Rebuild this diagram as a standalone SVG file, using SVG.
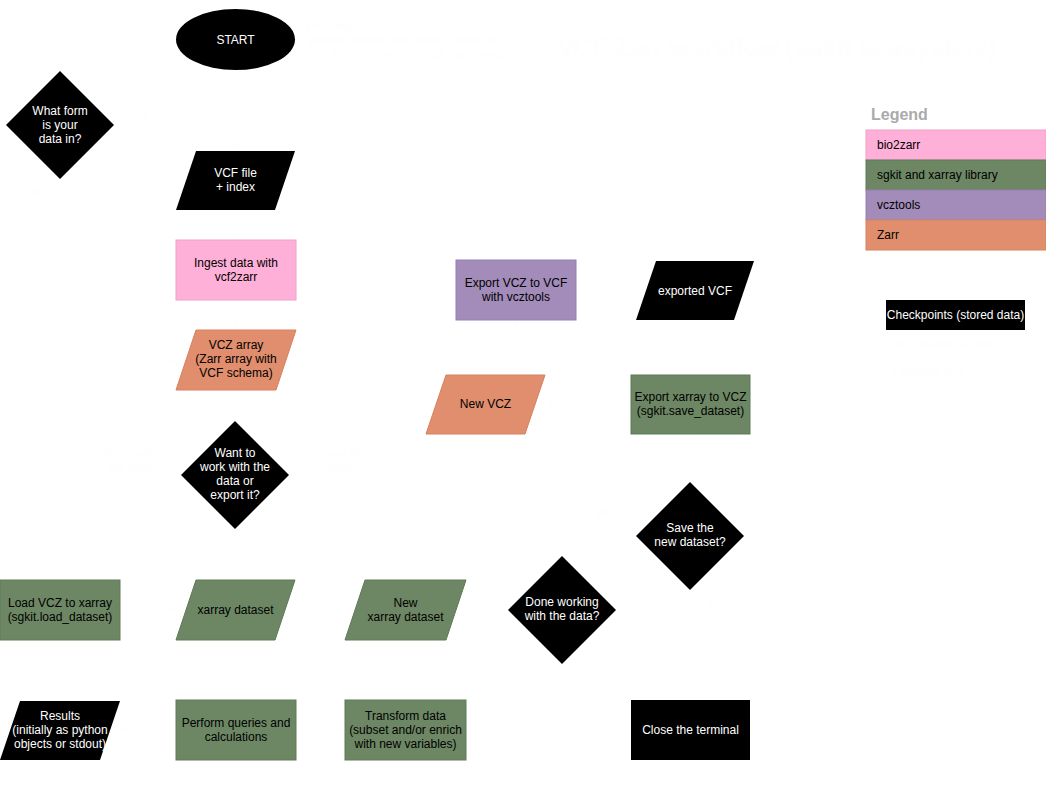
<svg xmlns="http://www.w3.org/2000/svg" width="1046" height="799" viewBox="0 0 1046 799">
<defs>
<style>
text{font-family:"Liberation Sans",Arial,sans-serif;font-size:12px;text-anchor:middle;fill:#000}
.w{fill:#fff}
.faint{fill:#fefefe}
.blk{fill:#000}
.pink{fill:#ffb0d9;stroke:#f0a0c8;stroke-width:1}
.green{fill:#6d8764;stroke:#5e7a56;stroke-width:1}
.purple{fill:#a38cba;stroke:#9680ae;stroke-width:1}
.orange{fill:#e08e6d;stroke:#d8805e;stroke-width:1}
.conn{fill:none;stroke:#fefefe;stroke-width:1}
.lt{text-anchor:start}
</style>
<marker id="arr" markerWidth="8" markerHeight="8" refX="7" refY="4" orient="auto" markerUnits="userSpaceOnUse">
<path d="M0,0 L8,4 L0,8 z" fill="#fefefe"/>
</marker>
</defs>
<rect width="1046" height="799" fill="#fff"/>

<g id="title">
<text class="faint" x="777" y="56" style="font-size:25px;font-weight:bold">VCF Zarr workflow (sgkit ecosystem)</text>
<text class="faint lt" x="307" y="30">(Assumption:</text>
<text class="faint lt" x="307" y="44">genetic variant data exists, either as a</text>
<text class="faint lt" x="307" y="58">VCF/BCF file or as a VCZ Zarr array)</text>
</g>

<g id="connectors">
<path class="conn" d="M176,40 H60 V71" marker-end="url(#arr)"/>
<path class="conn" d="M114,125 H235 V151" marker-end="url(#arr)"/>
<path class="conn" d="M60,179 V360 H176" marker-end="url(#arr)"/>
<path class="conn" d="M235,210 V240" marker-end="url(#arr)"/>
<path class="conn" d="M236,300 V330" marker-end="url(#arr)"/>
<path class="conn" d="M236,390 V421" marker-end="url(#arr)"/>
<path class="conn" d="M181,475 H60 V580" marker-end="url(#arr)"/>
<path class="conn" d="M289,475 H516 V320" marker-end="url(#arr)"/>
<path class="conn" d="M576,290 H636" marker-end="url(#arr)"/>
<path class="conn" d="M120,610 H176" marker-end="url(#arr)"/>
<path class="conn" d="M235,640 V700" marker-end="url(#arr)"/>
<path class="conn" d="M176,730 H120" marker-end="url(#arr)"/>
<path class="conn" d="M296,730 H345" marker-end="url(#arr)"/>
<path class="conn" d="M405,700 V640" marker-end="url(#arr)"/>
<path class="conn" d="M466,610 H508" marker-end="url(#arr)"/>
<path class="conn" d="M562,556 V536 H636" marker-end="url(#arr)"/>
<path class="conn" d="M616,610 H690 V700" marker-end="url(#arr)"/>
<path class="conn" d="M690,482 V434" marker-end="url(#arr)"/>
<path class="conn" d="M631,404 H545" marker-end="url(#arr)"/>
<path class="conn" d="M744,536 H780 V730 H750" marker-end="url(#arr)"/>
<text class="faint" x="140" y="119">VCF</text>
<text class="faint" x="40" y="197">VCZ</text>
<text class="faint" x="130" y="458">Work with</text>
<text class="faint" x="130" y="472">the data</text>
<text class="faint" x="340" y="458">Export the</text>
<text class="faint" x="340" y="472">data</text>
<text class="faint" x="675" y="466">Yes</text>
<text class="faint" x="605" y="517">No</text>
<text class="faint" x="715" y="610">No</text>
</g>

<g id="start">
<ellipse cx="235.500" cy="39.500" rx="59.500" ry="30.500" class="blk"/>
<text class="w" x="235.500" y="44">START</text>
</g>

<g id="q-form">
<polygon points="60,71 114,125 60,179 6,125" class="blk"/>
<text class="w" x="60" y="115">What form</text>
<text class="w" x="60" y="129">is your</text>
<text class="w" x="60" y="143">data in?</text>
</g>

<g id="vcf-file">
<polygon points="196,151 295,151 275,210 176,210" class="blk"/>
<text class="w" x="235.500" y="177">VCF file</text>
<text class="w" x="235.500" y="191"> + index</text>
</g>

<g id="ingest">
<rect x="176" y="240" width="120" height="60" class="pink"/>
<text x="236" y="267">Ingest data with</text>
<text x="236" y="281">vcf2zarr</text>
</g>

<g id="vcz-array">
<polygon points="196,330 296,330 276,390 176,390" class="orange"/>
<text x="236" y="349">VCZ array</text>
<text x="236" y="363">(Zarr array with</text>
<text x="236" y="377">VCF schema)</text>
</g>

<g id="q-work">
<polygon points="235,421 289,475 235,529 181,475" class="blk"/>
<text class="w" x="235" y="457">Want to</text>
<text class="w" x="235" y="471">work with the</text>
<text class="w" x="235" y="485">data or</text>
<text class="w" x="235" y="499">export it?</text>
</g>

<g id="export-vcf">
<rect x="456" y="260" width="120" height="60" class="purple"/>
<text x="516" y="287">Export VCZ to VCF</text>
<text x="516" y="301">with vcztools</text>
</g>

<g id="exported-vcf">
<polygon points="656,261 754,261 734,320 636,320" class="blk"/>
<text class="w" x="695" y="295">exported VCF</text>
</g>

<g id="new-vcz">
<polygon points="446,375 545,375 525,434 426,434" class="orange"/>
<text x="485.500" y="408">New VCZ</text>
</g>

<g id="save-vcz">
<rect x="631" y="375" width="119" height="59" class="green"/>
<text x="690.500" y="401">Export xarray to VCZ</text>
<text x="690.500" y="415">(sgkit.save_dataset)</text>
</g>

<g id="q-save">
<polygon points="690,482 744,536 690,590 636,536" class="blk"/>
<text class="w" x="690" y="532">Save the</text>
<text class="w" x="690" y="546">new dataset?</text>
</g>

<g id="q-done">
<polygon points="562,556 616,610 562,664 508,610" class="blk"/>
<text class="w" x="562" y="606">Done working</text>
<text class="w" x="562" y="620">with the data?</text>
</g>

<g id="load">
<rect x="0" y="580" width="120" height="60" class="green"/>
<text x="60" y="607">Load VCZ to xarray</text>
<text x="60" y="621">(sgkit.load_dataset)</text>
</g>

<g id="xarray-ds">
<polygon points="196,580 295,580 275,640 176,640" class="green"/>
<text x="235.500" y="614">xarray dataset</text>
</g>

<g id="new-xarray-ds">
<polygon points="365,580 466,580 446,640 345,640" class="green"/>
<text x="405.500" y="607">New</text>
<text x="405.500" y="621">xarray dataset</text>
</g>

<g id="results">
<polygon points="20,701 120,701 100,760 0,760" class="blk"/>
<text class="w" x="60" y="720">Results</text>
<text class="w" x="60" y="734">(initially as python</text>
<text class="w" x="60" y="748">objects or stdout)</text>
</g>

<g id="queries">
<rect x="176" y="700" width="120" height="60" class="green"/>
<text x="236" y="727">Perform queries and</text>
<text x="236" y="741">calculations</text>
</g>

<g id="transform">
<rect x="345" y="700" width="121" height="60" class="green"/>
<text x="405.500" y="720">Transform data</text>
<text x="405.500" y="734">(subset and/or enrich</text>
<text x="405.500" y="748">with new variables)</text>
</g>

<g id="close">
<rect x="631" y="700" width="119" height="60" class="blk"/>
<text class="w" x="690.500" y="734">Close the terminal</text>
</g>

<g id="legend">
<text x="871" y="120" class="lt" style="font-size:16px;font-weight:bold;fill:#aaaaaa">Legend</text>
<rect x="866" y="130" width="180" height="30" class="pink"/>
<text x="877" y="149" class="lt">bio2zarr</text>
<rect x="866" y="160" width="180" height="30" class="green"/>
<text x="877" y="179" class="lt">sgkit and xarray library</text>
<rect x="866" y="190" width="180" height="30" class="purple"/>
<text x="877" y="209" class="lt">vcztools</text>
<rect x="866" y="220" width="180" height="30" class="orange"/>
<text x="877" y="239" class="lt">Zarr</text>
<rect x="886" y="300" width="139" height="30" class="blk"/>
<text class="w" x="955.500" y="319">Checkpoints (stored data)</text>
<text class="faint lt" x="892" y="349">VCZ stored on disk</text>
<text class="faint lt" x="892" y="376">Exported VCF</text>
</g>
</svg>
